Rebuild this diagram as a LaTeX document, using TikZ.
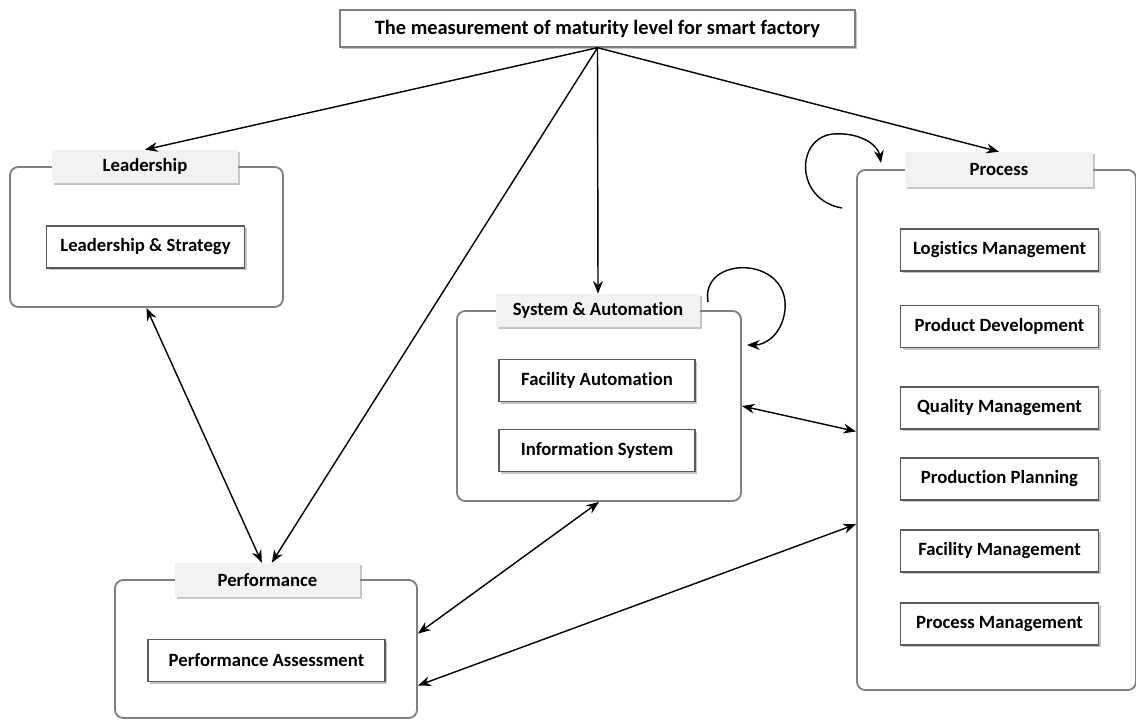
\documentclass[tikz,border=0pt]{standalone}
\usepackage{fontspec}
\setmainfont{Carlito}[Ligatures=NoCommon]
\usetikzlibrary{arrows.meta,shadows}
\definecolor{framegray}{RGB}{128,128,128}
\definecolor{boxgray}{RGB}{90,90,90}
\definecolor{labelfill}{RGB}{242,242,242}

\tikzset{
  frame/.style={draw=framegray, line width=1.3pt, rounded corners=6pt},
  tag/.style={fill=labelfill, font=\fontsize{13.3}{16}\selectfont\bfseries,
    drop shadow={shadow xshift=1.5pt, shadow yshift=-1.5pt, opacity=0.45}},
  item/.style={draw=boxgray, line width=0.9pt, fill=white, minimum width=4.95cm, minimum height=1.05cm,
    font=\fontsize{13.3}{16}\selectfont\bfseries,
    drop shadow={shadow xshift=1.5pt, shadow yshift=-1.5pt, opacity=0.45}},
  link/.style={-{Stealth[length=9pt,width=7pt]}, line width=1pt},
  both/.style={{Stealth[length=9pt,width=7pt]}-{Stealth[length=9pt,width=7pt]}, line width=1pt}
}

\begin{document}
\begin{tikzpicture}[x=0.025cm, y=-0.025cm]
      \useasboundingbox (0,0) rectangle (1136,720);

      % frames
      \node[frame, minimum width=6.825cm, minimum height=3.5cm]  (lf) at (146.5,237) {};
      \node[frame, minimum width=7.1cm, minimum height=4.75cm]   (sf) at (599,406)   {};
      \node[frame, minimum width=6.975cm, minimum height=13cm]   (pf) at (996.5,430) {};
      \node[frame, minimum width=7.55cm, minimum height=3.45cm]  (ef) at (266,649)   {};

      % title
      \node[draw=framegray, line width=1pt, fill=white, minimum width=12.875cm, minimum height=0.925cm,
            font=\fontsize{14.5}{17}\selectfont\bfseries,
            drop shadow={shadow xshift=1.5pt, shadow yshift=-1.5pt, opacity=0.45}]
            (t) at (597.5,28.5) {The measurement of maturity level for smart factory};

      % tags
      \node[tag, minimum width=4.65cm, minimum height=0.825cm]  (lt) at (145,166.5) {Leadership};
      \node[tag, minimum width=5.1cm, minimum height=0.825cm]   (st) at (598,310.5) {System \& Automation};
      \node[tag, minimum width=4.7cm, minimum height=0.875cm]   (pt) at (999,169.5) {Process};
      \node[tag, minimum width=4.625cm, minimum height=0.85cm]  (et) at (267.5,580) {Performance};

      % items
      \node[item] (ls) at (145.5,247) {Leadership \& Strategy};
      \node[item, minimum width=4.9cm] (fa) at (597,380.5) {Facility Automation};
      \node[item, minimum width=4.9cm] (is) at (597,450.5) {Information System};
      \node[item] (lm) at (999.5,250)   {Logistics Management};
      \node[item] (pd) at (999.5,326.5) {Product Development};
      \node[item] (qm) at (999.5,408)   {Quality Management};
      \node[item] (pp) at (999.5,479)   {Production Planning};
      \node[item] (fm) at (999.5,551)   {Facility Management};
      \node[item] (pm) at (999.5,624)   {Process Management};
      \node[item, minimum width=5.925cm] (pa) at (266.5,660.5) {Performance Assessment};

      % connectors
      \draw[link] (t.south) -- (lt.north);
      \draw[link] (t.south) -- (st.north);
      \draw[link] (t.south) -- (pt.north);
      \draw[link] (t.south) -- ([xshift=3pt]et.north);
      \draw[both] (lf.south) -- ([xshift=-4pt]et.north);
      \draw[both] (sf.east) -- ([yshift=-1pt]pf.west);
      \draw[both] (sf.south) -- ([yshift=11pt]ef.east);
      \draw[both] ([yshift=-67pt]pf.west) -- ([yshift=-26pt]ef.east);

      % self loops
      \coordinate (sa) at (708,302);
      \coordinate (sb) at (747,345);
      \draw[link] (sa) .. controls (700,255) and (790,255) .. (785,310) .. controls (782,335) and (765,345) .. (sb);
      \coordinate (pa1) at (842,208);
      \coordinate (pb1) at (881,163);
      \draw[link] (pa1) .. controls (795,200) and (795,138) .. (833,134) .. controls (860,132) and (878,145) .. (pb1);
\end{tikzpicture}
\end{document}
